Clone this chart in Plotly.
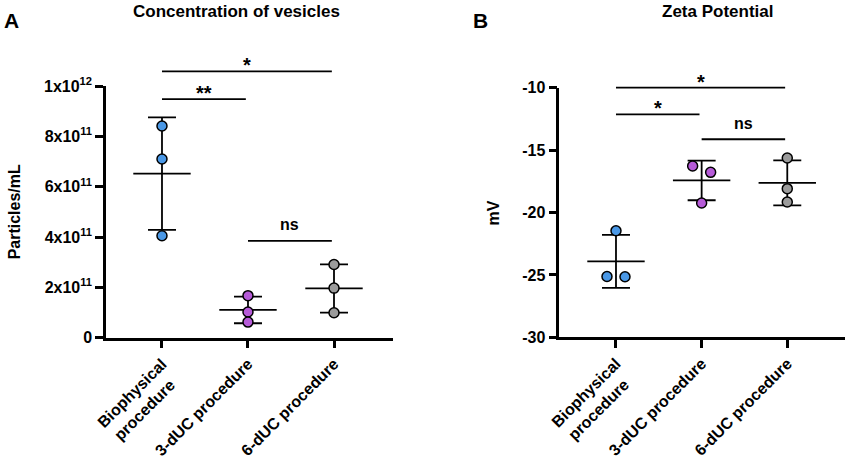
import numpy as np
import plotly.graph_objects as go

# ---------------- data ----------------
categories = ["Biophysical<br>procedure", "3-dUC procedure", "6-dUC procedure"]

conc_values = [
    [8.41e11, 7.10e11, 4.05e11],
    [1.67e11, 1.02e11, 0.62e11],
    [2.91e11, 1.97e11, 0.99e11],
]
zeta_values = [
    [-21.46, -25.13, -25.15],
    [-16.27, -16.78, -19.24],
    [-15.63, -18.09, -19.16],
]

conc_tickvals = [0, 2e11, 4e11, 6e11, 8e11, 1e12]
conc_ticktext = ["0", "2x10<sup>11</sup>", "4x10<sup>11</sup>", "6x10<sup>11</sup>",
                 "8x10<sup>11</sup>", "1x10<sup>12</sup>"]
zeta_tickvals = [-30, -25, -20, -15, -10]
zeta_ticktext = ["-30", "-25", "-20", "-15", "-10"]

conc_sig_pairs = [(0, 2), (0, 1), (1, 2)]
conc_sig_heights = [1.058e12, 0.948e12, 0.385e12]
conc_sig_labels = ["*", "**", "ns"]
zeta_sig_pairs = [(0, 2), (0, 1), (1, 2)]
zeta_sig_heights = [-10.0, -12.13, -14.13]
zeta_sig_labels = ["*", "*", "ns"]

group_colors = ["#4A98E6", "#B65BD8", "#9B9B9B"]

# ---------------- layout geometry ----------------
W, H = 851, 472
FONT = "Liberation Sans, Arial, sans-serif"

panels = [
    dict(px=(106, 393, 86, 337.7), xr=(-0.651, 2.686), yr=(0, 1e12),
         values=conc_values, tickvals=conc_tickvals, ticktext=conc_ticktext,
         pairs=conc_sig_pairs, heights=conc_sig_heights, labels=conc_sig_labels,
         xa="x", ya="y"),
    dict(px=(559.3, 845, 87.7, 337.3), xr=(-0.662, 2.674), yr=(-30, -10),
         values=zeta_values, tickvals=zeta_tickvals, ticktext=zeta_ticktext,
         pairs=zeta_sig_pairs, heights=zeta_sig_heights, labels=zeta_sig_labels,
         xa="x2", ya="y2"),
]


def centered_lines(label):
    lines = label.split("<br>")
    longest = max(len(s) for s in lines)
    return "<br>".join(s + "\u00a0" * (longest - len(s)) for s in lines)


def dodge(vals, ypx, xpx, diam=9.0, step_px=18.0):
    order = sorted(range(len(vals)), key=lambda k: -vals[k])
    clusters = [[order[0]]]
    for k in order[1:]:
        if (vals[clusters[-1][-1]] - vals[k]) * ypx < diam:
            clusters[-1].append(k)
        else:
            clusters.append([k])
    offs = [0.0] * len(vals)
    for c in clusters:
        n = len(c)
        for j, k in enumerate(c):
            offs[k] = (j - (n - 1) / 2) * step_px / xpx
    return offs


fig = go.Figure()
shapes = []
annotations = []
layout_axes = {}

for p in panels:
    l, r, t, b = p["px"]
    xlo, xhi = p["xr"]
    ylo, yhi = p["yr"]
    xpx = (r - l) / (xhi - xlo)
    ypx = (b - t) / (yhi - ylo)
    xa, ya = p["xa"], p["ya"]

    for i, vals in enumerate(p["values"]):
        v = np.array(vals)
        fig.add_trace(go.Scatter(
            x=[i], y=[v.mean()], mode="markers", xaxis=xa, yaxis=ya,
            marker=dict(symbol="line-ew", size=41, line=dict(width=1.8, color="black")),
            error_y=dict(type="data", array=[v.std(ddof=1)], thickness=1.8,
                         width=14, color="black"),
            showlegend=False, hoverinfo="skip"))
    for i, vals in enumerate(p["values"]):
        offs = dodge(vals, ypx, xpx)
        fig.add_trace(go.Scatter(
            x=[i + o for o in offs], y=vals, mode="markers", xaxis=xa, yaxis=ya,
            marker=dict(size=10, color=group_colors[i], line=dict(width=1.5, color="black")),
            showlegend=False))

    for (i, j), h, lab in zip(p["pairs"], p["heights"], p["labels"]):
        yd = (h - ylo) / (yhi - ylo)
        is_ns = lab == "ns"
        shapes.append(dict(type="line", xref=xa, yref=ya + " domain",
                           x0=i, x1=j - 0.025, y0=yd, y1=yd,
                           line=dict(color="black", width=1.8)))
        annotations.append(dict(x=(i + j - 0.025) / 2, y=yd, xref=xa, yref=ya + " domain",
                                text=lab, showarrow=False, yanchor="middle",
                                yshift=16 if is_ns else 6,
                                font=dict(family=FONT, size=16 if is_ns else 20,
                                          color="black", weight="bold")))

    axis_common = dict(showline=True, linewidth=2.5, linecolor="black", ticks="outside",
                       ticklen=8, tickwidth=2.5, tickcolor="black", showgrid=False,
                       zeroline=False, automargin=False,
                       tickfont=dict(family=FONT, size=16, color="black", weight="bold"))
    xkey = "xaxis" if xa == "x" else "xaxis2"
    ykey = "yaxis" if ya == "y" else "yaxis2"
    layout_axes[xkey] = dict(axis_common, domain=[l / W, r / W], range=[xlo, xhi],
                             tickvals=[0, 1, 2],
                             ticktext=[centered_lines(c) for c in categories],
                             tickangle=-45, anchor=ya)
    layout_axes[ykey] = dict(axis_common, domain=[1 - b / H, 1 - t / H], range=[ylo, yhi],
                             tickvals=p["tickvals"], ticktext=p["ticktext"], anchor=xa)

bold = lambda s: dict(family=FONT, size=s, color="black", weight="bold")
annotations += [
    dict(text="Concentration of vesicles", x=236 / W, y=1 - 11 / H, xref="paper", yref="paper",
         showarrow=False, xanchor="center", yanchor="middle", font=bold(17)),
    dict(text="Zeta Potential", x=717 / W, y=1 - 11 / H, xref="paper", yref="paper",
         showarrow=False, xanchor="center", yanchor="middle", font=bold(17)),
    dict(text="A", x=11.5 / W, y=1 - 20 / H, xref="paper", yref="paper",
         showarrow=False, xanchor="center", yanchor="middle", font=bold(21)),
    dict(text="B", x=480 / W, y=1 - 20 / H, xref="paper", yref="paper",
         showarrow=False, xanchor="center", yanchor="middle", font=bold(21)),
    dict(text="Particles/mL", x=14.5 / W, y=0.5, xref="paper", yref="y domain",
         showarrow=False, textangle=-90, xanchor="center", yanchor="middle", font=bold(16)),
    dict(text="mV", x=493 / W, y=0.5, xref="paper", yref="y2 domain",
         showarrow=False, textangle=-90, xanchor="center", yanchor="middle", font=bold(16)),
]

fig.update_layout(width=W, height=H, margin=dict(l=0, r=0, t=0, b=0, autoexpand=False),
                  paper_bgcolor="white", plot_bgcolor="white",
                  shapes=shapes, annotations=annotations, **layout_axes)

fig.write_html("out.html", config={"displayModeBar": False},
               post_script="document.body.style.margin='0px';"
                           "document.body.style.overflow='hidden';")
